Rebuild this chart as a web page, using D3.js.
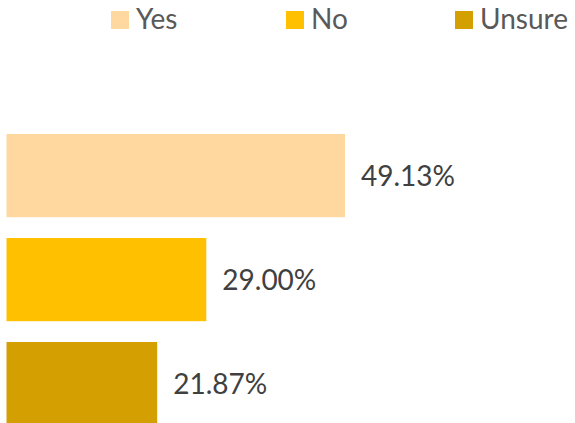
<!DOCTYPE html>
<html>
<head>
<meta charset="utf-8">
<script src="https://cdn.jsdelivr.net/npm/d3@7"></script>
<style>
  html, body { margin: 0; padding: 0; background: #fff; }
  svg { display: block; }
</style>
</head>
<body>
<svg id="chart" width="575" height="423"></svg>
<script>
// Survey answers and their shares (percent)
const categories = ["Yes", "No", "Unsure"];
const values = [49.13, 29.00, 21.87];
const colors = ["#FFD89F", "#FFC000", "#D49F00"];

const svg = d3.select("#chart");
const W = 575, H = 423;
const fontFamily = "Lato, 'Open Sans', sans-serif";

// Horizontal scale: percent -> pixels
const x = d3.scaleLinear().domain([0, 49.13]).range([6.5, 345]);

// Vertical bands, one per answer
const y = d3.scaleBand()
  .domain(categories)
  .range([123.6, 435.6])
  .paddingInner(0.2)
  .paddingOuter(0.1);

const color = d3.scaleOrdinal().domain(categories).range(colors);

const data = categories.map((c, i) => ({ cat: c, value: values[i] }));

// Bars
svg.append("g")
  .selectAll("rect")
  .data(data)
  .join("rect")
  .attr("x", x(0))
  .attr("y", d => y(d.cat))
  .attr("width", d => x(d.value) - x(0))
  .attr("height", y.bandwidth())
  .attr("fill", d => color(d.cat));

// Value labels
svg.append("g")
  .selectAll("text")
  .data(data)
  .join("text")
  .attr("x", d => x(d.value) + 16)
  .attr("y", d => y(d.cat) + y.bandwidth() / 2 + 10)
  .attr("font-family", fontFamily)
  .attr("font-size", 28)
  .attr("fill", "#404040")
  .text(d => d.value.toFixed(2) + "%");

// Legend
const legendX = [111, 286, 455];
const legend = svg.append("g")
  .selectAll("g")
  .data(categories)
  .join("g")
  .attr("transform", (d, i) => `translate(${legendX[i]},11)`);

legend.append("rect")
  .attr("width", 18)
  .attr("height", 18)
  .attr("fill", d => color(d));

legend.append("text")
  .attr("x", 25)
  .attr("y", 17.5)
  .attr("font-family", fontFamily)
  .attr("font-size", 28)
  .attr("fill", "#595959")
  .text(d => d);
</script>
</body>
</html>
